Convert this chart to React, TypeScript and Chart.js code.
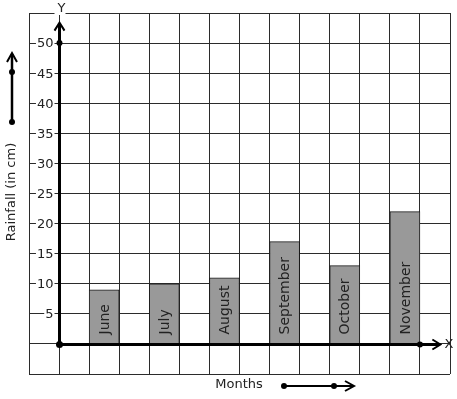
import React, { useEffect, useRef } from "react";
import { Chart, registerables } from "chart.js";

Chart.register(...registerables);

const months = ["June", "July", "August", "September", "October", "November"];
const rainfall = [9, 10, 11, 17, 13, 22];
const yTickLabels = [5, 10, 15, 20, 25, 30, 35, 40, 45, 50];
const yTitle = "Rainfall (in cm)";
const xTitle = "Months";

const FONT = "13px 'DejaVu Sans'";
const BAR_FONT = "14px 'DejaVu Sans'";

const overlay = {
  id: "overlay",
  afterDatasetsDraw(chart: any) {
    const ctx = chart.ctx as CanvasRenderingContext2D;
    const xs = chart.scales.x;
    const ys = chart.scales.y;
    const ox = Math.round(xs.getPixelForValue(0)) + 0.5;
    const oy = Math.round(ys.getPixelForValue(0)) + 0.5;
    ctx.save();
    ctx.fillStyle = "#222";
    // bar labels
    ctx.font = BAR_FONT;
    const meta = chart.getDatasetMeta(0);
    meta.data.forEach((bar: any, i: number) => {
      ctx.save();
      ctx.translate(bar.x, oy - 10);
      ctx.rotate(-Math.PI / 2);
      ctx.textAlign = "left";
      ctx.textBaseline = "middle";
      ctx.fillStyle = "#222";
      ctx.fillText(months[i], 0, 1);
      ctx.restore();
    });
    ctx.font = FONT;
    // y tick labels with white backgrounds
    ctx.textAlign = "right";
    ctx.textBaseline = "middle";
    yTickLabels.forEach((v) => {
      const y = ys.getPixelForValue(v);
      const s = String(v);
      const w = ctx.measureText(s).width;
      const right = ox - 6;
      ctx.fillStyle = "#fff";
      ctx.fillRect(right - w - 1, y - 6, w + 2, 12);
      ctx.fillStyle = "#222";
      ctx.fillText(s, right, y + 1);
    });
    // axes
    ctx.strokeStyle = "#000";
    ctx.fillStyle = "#000";
    ctx.lineWidth = 3;
    const yTip = ys.getPixelForValue(53.4);
    const xTip = xs.getPixelForValue(12.68);
    ctx.beginPath();
    ctx.moveTo(ox, oy);
    ctx.lineTo(ox, yTip + 1);
    ctx.moveTo(ox, oy);
    ctx.lineTo(xTip - 1, oy);
    ctx.stroke();
    ctx.lineWidth = 2;
    ctx.beginPath();
    ctx.moveTo(ox - 5, yTip + 8);
    ctx.lineTo(ox, yTip);
    ctx.lineTo(ox + 5, yTip + 8);
    ctx.moveTo(xTip - 8, oy - 5);
    ctx.lineTo(xTip, oy);
    ctx.lineTo(xTip - 8, oy + 5);
    ctx.stroke();
    const dot = (x: number, y: number, r = 3) => {
      ctx.beginPath();
      ctx.arc(x, y, r, 0, Math.PI * 2);
      ctx.fill();
    };
    dot(ox, oy, 3.5);
    dot(ox, ys.getPixelForValue(50), 3);
    dot(xs.getPixelForValue(12), oy, 3);
    // axis letters
    ctx.textAlign = "center";
    ctx.textBaseline = "middle";
    ctx.fillStyle = "#fff";
    ctx.fillRect(ox - 5, 2, 11, 13);
    ctx.fillStyle = "#222";
    ctx.fillText("Y", ox + 2, 9);
    ctx.textAlign = "left";
    ctx.fillText("X", xTip + 4, oy);
    // titles
    ctx.save();
    ctx.translate(12, 192);
    ctx.rotate(-Math.PI / 2);
    ctx.textAlign = "center";
    ctx.fillText(yTitle, 0, 0);
    ctx.restore();
    ctx.textAlign = "center";
    ctx.fillText(xTitle, 239, 385);
    // decorative arrows
    ctx.strokeStyle = "#000";
    ctx.fillStyle = "#000";
    ctx.lineWidth = 2.5;
    ctx.beginPath();
    ctx.moveTo(12, 122);
    ctx.lineTo(12, 54);
    ctx.stroke();
    ctx.lineWidth = 2;
    ctx.beginPath();
    ctx.moveTo(7, 62);
    ctx.lineTo(12, 53);
    ctx.lineTo(17, 62);
    ctx.stroke();
    dot(12, 122, 3);
    dot(12, 72, 3);
    ctx.lineWidth = 2;
    ctx.beginPath();
    ctx.moveTo(284, 386);
    ctx.lineTo(353, 386);
    ctx.moveTo(345, 381);
    ctx.lineTo(354, 386);
    ctx.lineTo(345, 391);
    ctx.stroke();
    dot(284, 386, 3);
    dot(334, 386, 3);
    ctx.restore();
  },
};

export default function App() {
  const ref = useRef<HTMLCanvasElement>(null);
  useEffect(() => {
    const chart = new Chart(ref.current!, {
      type: "bar",
      data: {
        datasets: [
          {
            data: rainfall.map((v, i) => ({ x: 1.5 + 2 * i, y: v })),
            backgroundColor: "#999999",
            borderColor: "#1a1a1a",
            borderWidth: 1,
            barPercentage: 1,
            categoryPercentage: 1,
          },
        ],
      },
      options: {
        animation: false,
        responsive: false,
        maintainAspectRatio: false,
        layout: { padding: { left: 29, right: 7, top: 13, bottom: 25 } },
        plugins: { legend: { display: false }, tooltip: { enabled: false } },
        scales: {
          x: {
            type: "linear",
            min: -1,
            max: 13,
            offset: false,
            ticks: { display: false, stepSize: 1, maxTicksLimit: 20 },
            grid: { color: "#2b2b2b", lineWidth: 1, drawTicks: false, offset: false },
            border: { display: false },
          },
          y: {
            min: -5,
            max: 55,
            ticks: { display: false, stepSize: 5, maxTicksLimit: 20 },
            grid: { color: "#2b2b2b", lineWidth: 1, drawTicks: false },
            border: { display: false },
          },
        },
      },
      plugins: [overlay],
    });
    return () => chart.destroy();
  }, []);
  return (
    <div style={{ position: "fixed", left: 0, top: 0, width: 457, height: 399, background: "#fff" }}>
      <canvas ref={ref} width={457} height={399} style={{ display: "block" }} />
    </div>
  );
}
